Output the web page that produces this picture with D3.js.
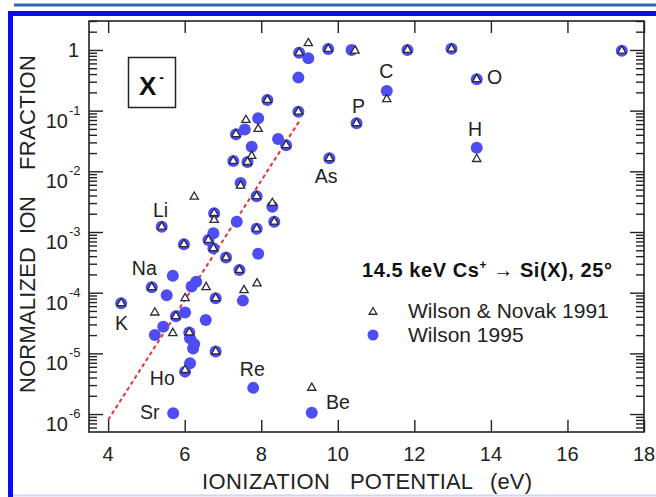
<!DOCTYPE html>
<html>
<head>
<meta charset="utf-8">
<script src="https://cdn.jsdelivr.net/npm/d3@7"></script>
<style>
  html, body { margin: 0; padding: 0; background: #ffffff; }
  svg { display: block; font-family: "Liberation Sans", Arial, Helvetica, sans-serif; }
</style>
</head>
<body>
<svg id="chart" width="656" height="497"></svg>
<script>
// Wilson 1995 (filled circles): ionization potential (eV) vs normalized ion fraction
const wilsonIP = [4.34, 5.14, 5.40, 5.22, 5.44, 5.53, 5.69, 5.70, 5.77, 5.98,
  6.01, 6.01, 6.12, 6.14, 6.14, 6.22, 6.25, 6.18, 6.30, 6.55,
  6.62, 6.75, 6.75, 6.77, 6.81, 6.81, 7.08, 7.36, 7.43, 7.46,
  7.52, 7.27, 7.34, 7.57, 7.64, 7.75, 7.79, 7.88, 7.88, 7.92,
  7.92, 8.16, 8.29, 8.34, 8.44, 8.65, 8.97, 8.97, 8.99, 9.23,
  9.32, 9.75, 9.78, 10.36, 10.49, 11.28, 11.82, 12.97, 13.63, 13.63, 17.42];
const wilsonFrac = [6.7e-5, 1.23e-4, 1.22e-3, 2.0e-5, 2.75e-5, 9.1e-5, 1.9e-4, 1.03e-6, 4.1e-5, 6.3e-4,
  4.7e-5, 5.0e-6, 2.2e-5, 1.77e-5, 6.9e-6, 1.2e-5, 1.42e-5, 1.26e-4, 1.52e-4, 3.55e-5,
  7.4e-4, 9.5e-4, 5.4e-4, 2.03e-3, 8.1e-5, 1.07e-5, 3.8e-4, 1.48e-3, 2.37e-4, 6.4e-3,
  7.4e-5, 1.48e-2, 4.1e-2, 4.9e-2, 1.42e-2, 2.55e-2, 2.7e-6, 1.13e-3, 3.9e-3, 4.4e-4,
  7.5e-2, 0.15, 2.6e-3, 1.48e-3, 3.4e-2, 2.7e-2, 0.096, 0.35, 0.90, 0.73,
  1.05e-6, 1.04, 1.64e-2, 1.0, 6.2e-2, 0.21, 1.0, 1.05, 0.33, 0.0245, 0.97];

// Wilson & Novak 1991 (open triangles)
const novakIP = [4.34, 5.14, 5.40, 5.22, 5.69, 5.77, 5.98, 6.01, 6.01, 6.12,
  6.25, 6.56, 6.62, 6.75, 6.77, 6.77, 6.81, 6.81, 7.08, 7.43,
  7.46, 7.55, 7.27, 7.34, 7.60, 7.64, 7.75, 7.88, 7.88, 7.89,
  7.92, 8.16, 8.29, 8.34, 8.65, 8.97, 8.99, 9.23, 9.32, 9.75,
  9.78, 10.45, 10.49, 11.28, 11.82, 12.97, 13.63, 13.63, 17.42];
const novakFrac = [6.7e-5, 1.23e-4, 1.22e-3, 4.7e-5, 2.15e-5, 4.1e-5, 6.3e-4, 8.1e-5, 5.3e-6, 2.2e-5,
  3.8e-3, 1.23e-4, 7.4e-4, 5.4e-4, 2.03e-3, 1.58e-3, 8.1e-5, 1.07e-5, 3.8e-4, 2.37e-4,
  5.8e-3, 1.1e-4, 1.48e-2, 4.1e-2, 7.0e-2, 1.42e-2, 1.79e-2, 1.13e-3, 3.9e-3, 1.42e-4,
  5.0e-2, 0.15, 3.0e-3, 1.48e-3, 2.7e-2, 0.096, 0.90, 1.29, 2.7e-6, 1.04,
  1.64e-2, 0.97, 6.2e-2, 0.154, 1.0, 1.05, 0.33, 0.0159, 0.97];

// Dashed trend line end points
const fitIP = [4.0, 9.0];
const fitFrac = [8e-7, 0.068];

// Element labels (anchored at label start / baseline, in data units)
const elementNames = ["Li", "Na", "K", "Ho", "Sr", "Re", "Be", "As", "P", "C", "O", "H"];
const elementIP    = [5.17, 4.62, 4.18, 5.09, 4.83, 7.44, 9.69, 9.40, 10.37, 11.08, 13.90, 13.40];
const elementFrac  = [1.77e-3, 1.95e-4, 2.43e-5, 3.0e-6, 8.3e-7, 4.2e-6, 1.21e-6, 6.4e-3, 0.0916, 0.345, 0.275, 0.0382];

// Axis ticks
const xTicks = [4, 6, 8, 10, 12, 14, 16, 18];
const yExponents = [0, -1, -2, -3, -4, -5, -6];

// Axis title words
const xTitleWords = ["IONIZATION", "POTENTIAL", "(eV)"];
const yTitleWords = ["NORMALIZED", "ION", "FRACTION"];

const circleColor = "#4d4df2";
const inkColor = "#222222";

const svg = d3.select("#chart");

// Page decoration: header rule and blue frame
svg.append("line")
  .attr("x1", 14).attr("x2", 656).attr("y1", 5).attr("y2", 5)
  .attr("stroke", "#2f66be").attr("stroke-width", 3);
svg.append("rect")
  .attr("x", 10.5).attr("y", 13.5).attr("width", 700).attr("height", 500)
  .attr("fill", "none").attr("stroke", "#0b0bf5").attr("stroke-width", 5);
svg.append("line")
  .attr("x1", 13).attr("x2", 656).attr("y1", 495.5).attr("y2", 495.5)
  .attr("stroke", "#d4d4f6").attr("stroke-width", 2);

const plotLeft = 89, plotRight = 644, plotTop = 21, plotBottom = 432;

const x = d3.scaleLinear().domain([3.5, 18]).range([plotLeft, plotRight]);
const y = d3.scaleLog().domain([5.06e-7, 3.0]).range([plotBottom, plotTop]);

const majorY = yExponents.map(e => Math.pow(10, e));
const minorY = [];
for (let e = -7; e <= 0; e++) {
  for (let m = 2; m <= 9; m++) {
    const v = m * Math.pow(10, e);
    if (v >= y.domain()[0] && v <= y.domain()[1]) minorY.push(v);
  }
}

const axisStyle = g => {
  g.select(".domain").remove();
  g.selectAll("line").attr("stroke", inkColor).attr("stroke-width", 1.4);
  g.selectAll("text").remove();
};

// Bottom and top x axes (ticks pointing inward)
svg.append("g").attr("transform", `translate(0,${plotBottom})`)
  .call(d3.axisBottom(x).tickValues(xTicks).tickSize(-12).tickFormat(""))
  .call(axisStyle);
svg.append("g").attr("transform", `translate(0,${plotTop})`)
  .call(d3.axisTop(x).tickValues(xTicks).tickSize(-12).tickFormat(""))
  .call(axisStyle);

// Left and right y axes, major and minor ticks
svg.append("g").attr("transform", `translate(${plotLeft},0)`)
  .call(d3.axisLeft(y).tickValues(majorY).tickSize(-14).tickFormat(""))
  .call(axisStyle);
svg.append("g").attr("transform", `translate(${plotLeft},0)`)
  .call(d3.axisLeft(y).tickValues(minorY).tickSize(-8).tickFormat(""))
  .call(axisStyle);
svg.append("g").attr("transform", `translate(${plotRight},0)`)
  .call(d3.axisRight(y).tickValues(majorY).tickSize(-14).tickFormat(""))
  .call(axisStyle);
svg.append("g").attr("transform", `translate(${plotRight},0)`)
  .call(d3.axisRight(y).tickValues(minorY).tickSize(-8).tickFormat(""))
  .call(axisStyle);

// Plot frame
svg.append("rect")
  .attr("x", plotLeft).attr("y", plotTop)
  .attr("width", plotRight - plotLeft).attr("height", plotBottom - plotTop)
  .attr("fill", "none").attr("stroke", inkColor).attr("stroke-width", 1.6);

// X tick labels
svg.append("g").selectAll("text").data(xTicks).join("text")
  .attr("x", d => x(d)).attr("y", plotBottom + 29)
  .attr("text-anchor", "middle")
  .attr("font-size", 20).attr("fill", inkColor)
  .text(d => d);

// Y tick labels with superscript exponents
const yLab = svg.append("g");
yExponents.forEach(e => {
  const yy = y(Math.pow(10, e));
  if (e === 0) {
    yLab.append("text").attr("x", 79).attr("y", yy + 7)
      .attr("text-anchor", "end").attr("font-size", 20).attr("fill", inkColor)
      .text("1");
  } else {
    yLab.append("text").attr("x", 68).attr("y", yy + 17)
      .attr("text-anchor", "end").attr("font-size", 20).attr("fill", inkColor)
      .text("10");
    yLab.append("text").attr("x", 69).attr("y", yy + 4)
      .attr("text-anchor", "start").attr("font-size", 13).attr("fill", inkColor)
      .text("-" + (-e));
  }
});

// Axis titles, word by word
const xTitleStart = [202, 350, 490], xTitleLen = [128, 123, 42];
svg.append("g").selectAll("text").data(xTitleWords).join("text")
  .attr("x", (d, i) => xTitleStart[i]).attr("y", 489)
  .attr("font-size", 22).attr("fill", inkColor)
  .attr("textLength", (d, i) => xTitleLen[i]).attr("lengthAdjust", "spacing")
  .text(d => d);
const yTitleStart = [393, 234, 170], yTitleLen = [146, 38, 115];
svg.append("g").selectAll("text").data(yTitleWords).join("text")
  .attr("transform", (d, i) => `translate(35,${yTitleStart[i]}) rotate(-90)`)
  .attr("font-size", 22).attr("fill", inkColor)
  .attr("textLength", (d, i) => yTitleLen[i]).attr("lengthAdjust", "spacing")
  .text(d => d);

// Dashed trend line
svg.append("path")
  .datum(d3.zip(fitIP, fitFrac))
  .attr("d", d3.line().x(d => x(d[0])).y(d => y(d[1])))
  .attr("fill", "none").attr("stroke", "#e8343a").attr("stroke-width", 2)
  .attr("stroke-dasharray", "4,3");

// Wilson 1995 circles
svg.append("g").selectAll("circle").data(d3.zip(wilsonIP, wilsonFrac)).join("circle")
  .attr("cx", d => x(d[0])).attr("cy", d => y(d[1])).attr("r", 6)
  .attr("fill", circleColor);

// Wilson & Novak 1991 triangles
const tri = d3.symbol().type(d3.symbolTriangle).size(30);
svg.append("g").selectAll("path").data(d3.zip(novakIP, novakFrac)).join("path")
  .attr("transform", d => `translate(${x(d[0])},${y(d[1])})`)
  .attr("d", tri)
  .attr("fill", "#ffffff").attr("stroke", "#2a2a3a").attr("stroke-width", 1.3);

// Element labels
svg.append("g").selectAll("text").data(d3.zip(elementNames, elementIP, elementFrac)).join("text")
  .attr("x", d => x(d[1])).attr("y", d => y(d[2]))
  .attr("font-size", 19.5).attr("fill", inkColor)
  .text(d => d[0]);

// Ion species box
svg.append("rect")
  .attr("x", 128.5).attr("y", 57.5).attr("width", 47).attr("height", 50)
  .attr("fill", "none").attr("stroke", inkColor).attr("stroke-width", 1.5);
const xt = svg.append("text").attr("x", 139).attr("y", 95)
  .attr("font-size", 26).attr("font-weight", "bold").attr("fill", "#111");
xt.append("tspan").text("X");
xt.append("tspan").attr("font-size", 14).attr("dx", 3).attr("dy", -13).text("-");

// Legend
const lg = svg.append("g");
const title = lg.append("text").attr("x", 362).attr("y", 277)
  .attr("font-size", 20).attr("font-weight", "bold").attr("fill", "#111")
  .attr("textLength", 250).attr("lengthAdjust", "spacing");
title.append("tspan").text("14.5 keV Cs");
title.append("tspan").attr("font-size", 12).attr("dy", -8).text("+");
title.append("tspan").attr("dy", 8).text(" \u2192 Si(X), 25\u00b0");

lg.append("path")
  .attr("transform", "translate(373,312)")
  .attr("d", d3.symbol().type(d3.symbolTriangle).size(26))
  .attr("fill", "#ffffff").attr("stroke", "#2a2a3a").attr("stroke-width", 1.3);
lg.append("text").attr("x", 408).attr("y", 318)
  .attr("font-size", 21).attr("fill", inkColor).text("Wilson & Novak 1991");
lg.append("circle").attr("cx", 373).attr("cy", 335).attr("r", 5.5).attr("fill", circleColor);
lg.append("text").attr("x", 408).attr("y", 342)
  .attr("font-size", 21).attr("fill", inkColor).text("Wilson 1995");
</script>
</body>
</html>
